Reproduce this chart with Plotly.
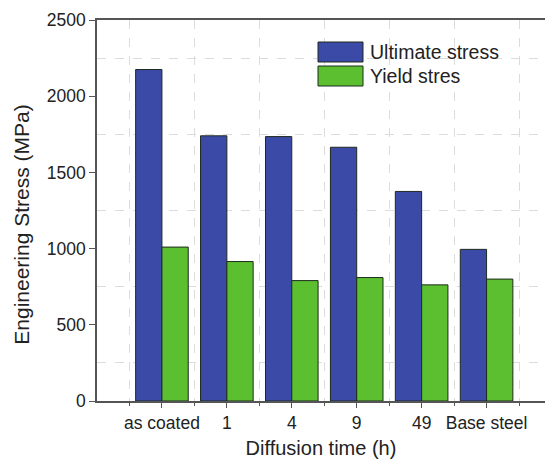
import plotly.graph_objects as go

# Tensile data by diffusion time
categories = ["as coated", "1", "4", "9", "49", "Base steel"]
ultimate_stress = [2175, 1740, 1735, 1665, 1375, 995]
yield_stress = [1010, 915, 790, 810, 762, 800]
series_names = ["Ultimate stress", "Yield stres"]
y_ticks = [0, 500, 1000, 1500, 2000, 2500]

BLUE = "#3b49a7"
GREEN = "#5bbf30"
EDGE = "#1e2a1e"
AXIS = "#555555"
FONT = "Liberation Sans, Arial, sans-serif"

x_pos = list(range(len(categories)))

fig = go.Figure()
fig.add_bar(x=x_pos, y=ultimate_stress, name=series_names[0],
            marker=dict(color=BLUE, line=dict(color=EDGE, width=1)))
fig.add_bar(x=x_pos, y=yield_stress, name=series_names[1],
            marker=dict(color=GREEN, line=dict(color=EDGE, width=1)))

fig.update_layout(
    width=545, height=466,
    margin=dict(l=97, r=0, t=20, b=65),
    paper_bgcolor="white", plot_bgcolor="white",
    barmode="group", bargap=0.19, bargroupgap=0,
    showlegend=False,
    font=dict(family=FONT, color="#222222"),
)

fig.update_xaxes(
    range=[-1, 5.9],
    tickmode="array", tickvals=x_pos, ticktext=categories,
    tickfont=dict(size=17.5, color="#222222"),
    ticks="outside", ticklen=5, tickwidth=1.2, tickcolor=AXIS,
    showline=True, linecolor=AXIS, linewidth=1.5, mirror=True,
    showgrid=False, zeroline=False,
    minor=dict(tickmode="array",
               tickvals=[v + 0.5 for v in [-1] + x_pos],
               ticks="outside", ticklen=3, tickcolor=AXIS,
               showgrid=True, gridcolor="#dcdcdc", griddash="dash", gridwidth=1),
    title=dict(text="Diffusion time (h)", font=dict(size=20, color="#222222"), standoff=9),
)

fig.update_yaxes(
    range=[0, 2500],
    tickmode="array", tickvals=y_ticks,
    tickfont=dict(size=17.5, color="#222222"),
    ticks="outside", ticklen=6, tickwidth=1.2, tickcolor=AXIS,
    showline=True, linecolor=AXIS, linewidth=1.5,
    showgrid=False, zeroline=False,
    minor=dict(tickmode="array", tickvals=[250, 750, 1250, 1750, 2250],
               ticks="", showgrid=True, gridcolor="#dcdcdc",
               griddash="dash", gridwidth=1),
)

# Y axis title
fig.add_annotation(
    text="Engineering Stress (MPa)", textangle=-90,
    xref="paper", yref="paper", x=-0.168, y=0.462,
    xanchor="center", yanchor="middle", showarrow=False,
    font=dict(size=21, color="#222222"),
)

# Legend with large swatches
legend_rows = [(series_names[0], BLUE, 0.0), (series_names[1], GREEN, 1.0)]
px_w, px_h = 545 - 97, 466 - 20 - 65
for label, color, row in legend_rows:
    top = 42 + row * 24
    y1 = 1 - (top - 20) / px_h
    y0 = 1 - (top + 20 - 20) / px_h
    fig.add_shape(type="rect", xref="paper", yref="paper",
                  x0=(318 - 97) / px_w, x1=(363 - 97) / px_w, y0=y0, y1=y1,
                  fillcolor=color, line=dict(color=EDGE, width=1))
    fig.add_annotation(text=label, xref="paper", yref="paper",
                       x=(368 - 97) / px_w, y=(y0 + y1) / 2,
                       xanchor="left", yanchor="middle", showarrow=False,
                       font=dict(size=19.5, color="#222222"))

fig.write_html("out.html")
